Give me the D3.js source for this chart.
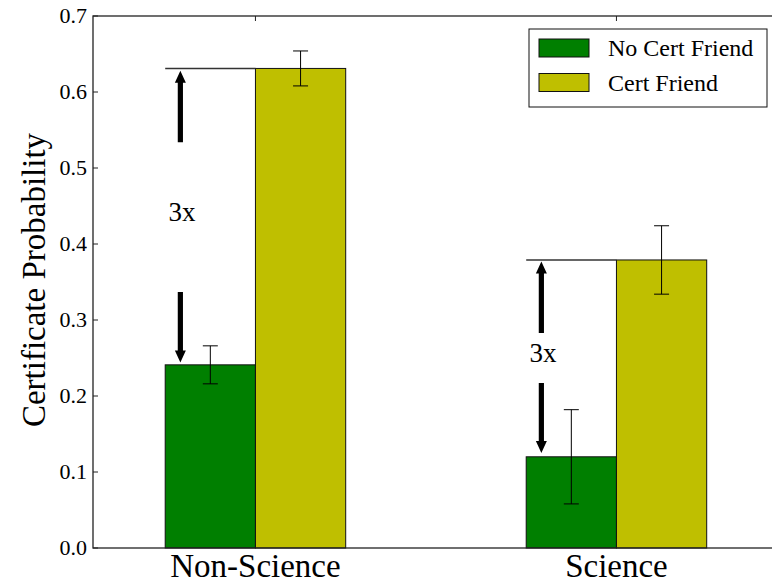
<!DOCTYPE html>
<html>
<head>
<meta charset="utf-8">
<script src="https://cdn.jsdelivr.net/npm/d3@7"></script>
</head>
<body style="margin:0">
<svg id="chart" width="772" height="581"></svg>
<script>
// ---- data ----
const categories = ["Non-Science", "Science"];
const seriesNames = ["No Cert Friend", "Cert Friend"];
const noCertFriend = [0.241, 0.120];
const certFriend = [0.631, 0.379];
const noCertErr = [0.025, 0.062];
const certErr = [0.023, 0.045];
const yTicks = [0.0, 0.1, 0.2, 0.3, 0.4, 0.5, 0.6, 0.7];
const ratioLabels = ["3x", "3x"];
// arrow annotations (data units): [tail, tip]
const upArrows = [[0.534, 0.628], [0.283, 0.377]];
const downArrows = [[0.337, 0.244], [0.217, 0.125]];
const labelY = [0.43, 0.245];

const colors = ["#007f00", "#bfbf00"];
const FONT = "'Liberation Serif', Tinos";

// ---- layout ----
const svg = d3.select("#chart");
const mLeft = 93, mTop = 16, mBottom = 548;
const barW = 0.25;
const x = d3.scaleLinear().domain([-0.45, 1.45]).range([mLeft, mLeft + 1.9 * 361]);
const y = d3.scaleLinear().domain([0, 0.7]).range([mBottom, mTop]);
const mRight = x(1.45);

const series = [noCertFriend, certFriend];
const errs = [noCertErr, certErr];

function txt(sel, size) {
  return sel.style("font-family", FONT).style("font-size", size + "px").attr("fill", "#000");
}

// bars
series.forEach((vals, s) => {
  svg.append("g").selectAll("rect").data(vals).join("rect")
    .attr("x", (d, i) => x(i + (s - 1) * barW))
    .attr("width", x(barW) - x(0))
    .attr("y", d => y(d))
    .attr("height", d => y(0) - y(d))
    .attr("fill", colors[s])
    .attr("stroke", "#111")
    .attr("stroke-width", 1);
});

// reference lines at yellow height
svg.append("g").selectAll("line").data(certFriend).join("line")
  .attr("x1", (d, i) => x(i - barW)).attr("x2", (d, i) => x(i))
  .attr("y1", d => y(d)).attr("y2", d => y(d))
  .attr("stroke", "#333").attr("stroke-width", 1.6);

// error bars
series.forEach((vals, s) => {
  const g = svg.append("g").attr("stroke", "#000").attr("stroke-width", 1);
  vals.forEach((v, i) => {
    const cx = x(i + (s - 1) * barW + barW / 2);
    const e = errs[s][i];
    g.append("line").attr("x1", cx).attr("x2", cx).attr("y1", y(v - e)).attr("y2", y(v + e));
    [v - e, v + e].forEach(val => {
      g.append("line").attr("x1", cx - 7.5).attr("x2", cx + 7.5).attr("y1", y(val)).attr("y2", y(val));
    });
  });
});

// arrows
function arrowPath(cx, y0, y1) {
  const dir = y1 < y0 ? -1 : 1;
  const hl = 12, hw = 5.5, sw = 2.6;
  const yb = y1 - dir * hl;
  return `M${cx - sw},${y0} L${cx - sw},${yb} L${cx - hw},${yb} L${cx},${y1} L${cx + hw},${yb} L${cx + sw},${yb} L${cx + sw},${y0} Z`;
}
const arrowOffset = -0.208;
[upArrows, downArrows].forEach(arr => {
  svg.append("g").selectAll("path").data(arr).join("path")
    .attr("d", (d, i) => arrowPath(x(i + arrowOffset), y(d[0]), y(d[1])))
    .attr("fill", "#000");
});

// ratio labels
txt(svg.append("g").selectAll("text").data(ratioLabels).join("text")
  .attr("x", (d, i) => x(i - 0.241))
  .attr("y", (d, i) => y(labelY[i])), 27)
  .text(d => d);

// frame
svg.append("rect").attr("x", mLeft).attr("y", mTop)
  .attr("width", mRight - mLeft).attr("height", mBottom - mTop)
  .attr("fill", "none").attr("stroke", "#222").attr("stroke-width", 1.3);

// y ticks
const yt = svg.append("g");
yt.selectAll("line").data(yTicks).join("line")
  .attr("x1", mLeft).attr("x2", mLeft + 5)
  .attr("y1", d => y(d)).attr("y2", d => y(d))
  .attr("stroke", "#222").attr("stroke-width", 1);
txt(yt.selectAll("text").data(yTicks).join("text")
  .attr("x", mLeft - 6).attr("y", d => y(d)).attr("dy", "0.34em")
  .attr("text-anchor", "end"), 22)
  .text(d => d3.format(".1f")(d));

// x ticks (top, inward) and labels
const xt = svg.append("g");
xt.selectAll("line").data(categories).join("line")
  .attr("x1", (d, i) => x(i)).attr("x2", (d, i) => x(i))
  .attr("y1", mTop).attr("y2", mTop + 5)
  .attr("stroke", "#222").attr("stroke-width", 1);
txt(xt.selectAll("text").data(categories).join("text")
  .attr("x", (d, i) => x(i)).attr("y", 577)
  .attr("text-anchor", "middle"), 33)
  .text(d => d);

// y label
txt(svg.append("text")
  .attr("transform", `translate(45,280) rotate(-90)`)
  .attr("text-anchor", "middle"), 33)
  .text("Certificate Probability");

// legend
const lg = svg.append("g");
lg.append("rect").attr("x", 529).attr("y", 29).attr("width", 238).attr("height", 78)
  .attr("fill", "#fff").attr("stroke", "#111").attr("stroke-width", 1);
seriesNames.forEach((name, s) => {
  lg.append("rect").attr("x", 539).attr("y", 39 + s * 34.5).attr("width", 50).attr("height", 18)
    .attr("fill", colors[s]).attr("stroke", "#111").attr("stroke-width", 1);
  txt(lg.append("text").attr("x", 608).attr("y", 56 + s * 35), 24).text(name);
});
</script>
</body>
</html>
